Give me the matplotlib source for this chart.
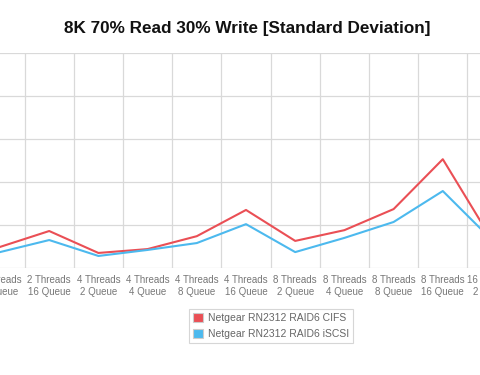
import matplotlib
matplotlib.use("Agg")
import matplotlib.pyplot as plt
import matplotlib.transforms as mtransforms
import numpy as np
from matplotlib.patches import Patch

categories = ["2 Threads\n8 Queue", "2 Threads\n16 Queue", "4 Threads\n2 Queue", "4 Threads\n4 Queue",
              "4 Threads\n8 Queue", "4 Threads\n16 Queue", "8 Threads\n2 Queue", "8 Threads\n4 Queue",
              "8 Threads\n8 Queue", "8 Threads\n16 Queue", "16 Threads\n2 Queue"]
cifs = [0.49, 0.86, 0.35, 0.44, 0.74, 1.35, 0.63, 0.88, 1.37, 2.53, 0.65]
iscsi = [0.37, 0.65, 0.28, 0.42, 0.58, 1.02, 0.37, 0.70, 1.07, 1.79, 0.65]
series_names = ["Netgear RN2312 RAID6 CIFS", "Netgear RN2312 RAID6 iSCSI"]
colors = ["#ea4f55", "#4cb9ee"]

plt.rcParams['font.family'] = ['Liberation Sans', 'DejaVu Sans']

fig = plt.figure(figsize=(4.8, 3.75), dpi=100)
ax = fig.add_axes([0.0, 107/375, 1.0, 215/375])
x = np.arange(len(categories))
ax.plot(x, cifs, color=colors[0], lw=1.5, label=series_names[0], clip_on=False)
ax.plot(x, iscsi, color=colors[1], lw=1.5, label=series_names[1], clip_on=False)

ax.set_xticks(x)
ax.set_xticklabels(categories, fontsize=7, color="#777777", linespacing=1.2)
ax.set_xticks(np.arange(len(categories)) + 0.5, minor=True)
ax.set_yticks(np.arange(0, 6))
ax.set_yticklabels([])
ax.set_xlim(0, 480/49.2)
ax.set_ylim(0, 5)
ax.tick_params(axis='both', which='both', length=0, pad=5)
ax.grid(False)
ax.grid(True, axis='x', which='minor', color="#d9d9d9", lw=0.9)
ax.grid(True, axis='y', which='major', color="#d9d9d9", lw=0.9)
for s in ax.spines.values():
    s.set_visible(False)
ax.set_axisbelow(True)

# tick labels whose category lies past the visible window (cut by the canvas edge)
trans = mtransforms.blended_transform_factory(ax.transData, ax.transAxes)
xmax = ax.get_xlim()[1]
for i, lab in enumerate(categories):
    if i > xmax:
        t = ax.text(i, 0, lab, transform=trans, ha='center', va='top', fontsize=7,
                    color="#777777", linespacing=1.2, clip_on=False)
        t.set_transform(trans + mtransforms.ScaledTranslation(0, -5/72, fig.dpi_scale_trans))

fig.text(247.5/480, 1 - 29/375, "8K 70% Read 30% Write [Standard Deviation]", ha='center', va='center',
         fontsize=12.3, fontweight='bold', color="#111111")

handles = [Patch(facecolor=colors[0], edgecolor="#cccccc", lw=0.8),
           Patch(facecolor=colors[1], edgecolor="#cccccc", lw=0.8)]
leg = fig.legend(handles, series_names, loc='center', bbox_to_anchor=(271/480, 1 - 326/375),
                 frameon=True, fontsize=7.5, labelcolor="#666666", handlelength=1.0, handleheight=1.0,
                 handletextpad=0.5, borderpad=0.35, labelspacing=0.55, fancybox=False)
leg.get_frame().set_edgecolor("#cccccc")
leg.get_frame().set_linewidth(0.8)

fig.savefig("out.png", dpi=100)
